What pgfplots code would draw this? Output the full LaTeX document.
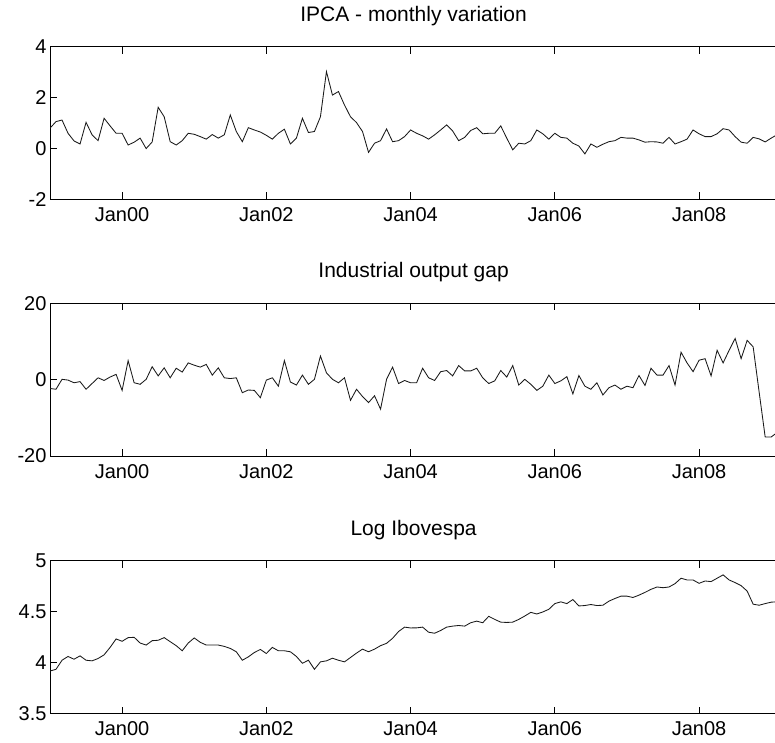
\documentclass[border=0pt]{standalone}
\usepackage{pgfplots}
\usepackage{pgfplotstable}
\pgfplotsset{compat=1.18}
\usepackage{fontspec}
\setmainfont{Liberation Sans}

\pgfplotstableread{
v
0.80
1.06
1.12
0.60
0.30
0.18
1.03
0.54
0.31
1.19
0.89
0.60
0.60
0.14
0.25
0.41
0.00
0.26
1.62
1.25
0.27
0.14
0.31
0.60
0.56
0.47
0.37
0.55
0.41
0.54
1.32
0.67
0.27
0.82
0.73
0.65
0.52
0.37
0.60
0.76
0.18
0.41
1.19
0.63
0.67
1.25
3.02
2.10
2.24
1.71
1.25
1.02
0.67
-0.15
0.21
0.31
0.77
0.27
0.31
0.47
0.73
0.60
0.50
0.37
0.54
0.73
0.93
0.69
0.31
0.44
0.71
0.82
0.58
0.60
0.60
0.89
0.41
-0.05
0.21
0.18
0.31
0.73
0.58
0.37
0.60
0.44
0.41
0.21
0.10
-0.21
0.18
0.05
0.17
0.27
0.31
0.44
0.41
0.41
0.34
0.25
0.27
0.26
0.21
0.44
0.18
0.27
0.37
0.73
0.58
0.47
0.47
0.58
0.78
0.73
0.47
0.25
0.21
0.44
0.38
0.26
0.41
0.55
}\ipca

\pgfplotstableread{
v
-2.3
-2.5
0.1
-0.1
-0.8
-0.5
-2.5
-1.0
0.5
-0.2
0.7
1.4
-2.8
5.0
-0.8
-1.2
0.1
3.4
1.0
3.1
0.5
3.0
2.0
4.4
3.8
3.3
4.0
1.2
3.1
0.5
0.3
0.5
-3.4
-2.7
-2.8
-4.7
-0.1
0.5
-1.7
5.0
-0.6
-1.4
1.2
-1.2
0.1
6.2
1.8
0.1
-0.8
0.5
-5.4
-2.5
-4.4
-6.0
-4.2
-7.7
0.1
3.3
-1.0
-0.2
-0.8
-0.8
3.0
0.5
-0.2
2.1
2.4
1.0
3.7
2.3
2.3
3.0
0.5
-1.0
-0.3
2.4
0.7
3.7
-1.4
0.1
-1.2
-2.8
-1.7
1.2
-1.0
-0.3
0.8
-3.7
1.1
-1.7
-2.5
-0.8
-4.0
-2.1
-1.4
-2.5
-1.7
-2.1
1.1
-1.5
3.0
1.2
1.2
3.7
-1.4
7.2
4.4
2.1
5.1
5.5
1.0
7.7
4.4
7.7
10.8
5.5
10.3
8.6
-3.3
-15.0
-15.0
-13.8
}\gap

\pgfplotstableread{
v
3.917
3.934
4.023
4.060
4.033
4.066
4.023
4.017
4.040
4.076
4.149
4.232
4.209
4.245
4.248
4.192
4.172
4.215
4.219
4.245
4.205
4.166
4.116
4.192
4.242
4.199
4.172
4.172
4.172
4.159
4.139
4.106
4.023
4.056
4.099
4.129
4.089
4.149
4.116
4.116
4.106
4.060
3.993
4.023
3.934
4.007
4.017
4.043
4.023
4.007
4.050
4.093
4.132
4.106
4.132
4.166
4.189
4.238
4.305
4.348
4.340
4.341
4.348
4.298
4.288
4.315
4.348
4.358
4.364
4.358
4.391
4.407
4.391
4.454
4.424
4.397
4.394
4.397
4.424
4.457
4.493
4.477
4.497
4.523
4.579
4.596
4.579
4.619
4.556
4.560
4.570
4.560
4.563
4.603
4.629
4.652
4.652
4.639
4.662
4.689
4.719
4.742
4.735
4.742
4.775
4.828
4.811
4.811
4.778
4.801
4.795
4.828
4.861
4.811
4.785
4.755
4.702
4.573
4.563
4.579
4.593
4.597
}\ibov

\pgfplotsset{
  mpanel/.style={
    scale only axis, width=733.2pt, height=152.8pt,
    xmin=0, xmax=122,
    xtick={12,36,60,84,108},
    xticklabels={Jan00,Jan02,Jan04,Jan06,Jan08},
    tick align=inside, major tick length=7pt,
    xtick pos=both, ytick pos=both,
    xticklabel pos=lower, yticklabel pos=left,
    axis line style={line width=0.9pt},
    every tick/.style={black, line width=0.9pt},
    tick label style={font=\fontsize{20}{24}\selectfont},
    xticklabel style={yshift=-4.7pt},
    title style={font=\fontsize{21}{25}\selectfont, anchor=base, at={(0.5,1)}, yshift=19.5pt},
  },
}

\begin{document}
\begin{tikzpicture}
\begin{axis}[mpanel, at={(50pt,-46.7pt)}, anchor=north west,
  title={IPCA - monthly variation}, title style={xshift=-3pt},
  ymin=-2, ymax=4, ytick={-2,0,2,4}, yticklabels={-2,0,2,4}]
\addplot[black!90, line width=0.85pt] table[x expr=\coordindex, y=v] {\ipca};
\end{axis}
\begin{axis}[mpanel, at={(50pt,-303.3pt)}, anchor=north west,
  title={Industrial output gap}, title style={xshift=-3pt},
  ymin=-20, ymax=20, ytick={-20,0,20}, yticklabels={-20,0,20}]
\addplot[black!90, line width=0.85pt] table[x expr=\coordindex, y=v] {\gap};
\end{axis}
\begin{axis}[mpanel, at={(50pt,-560.7pt)}, anchor=north west,
  title={Log Ibovespa}, title style={xshift=-3pt},
  ymin=3.5, ymax=5, ytick={3.5,4,4.5,5}, yticklabels={3.5,4,4.5,5}]
\addplot[black!90, line width=0.85pt] table[x expr=\coordindex, y=v] {\ibov};
\end{axis}
\pgfresetboundingbox
\path[use as bounding box] (0pt,0pt) rectangle (775pt,-742pt);
\end{tikzpicture}
\end{document}
